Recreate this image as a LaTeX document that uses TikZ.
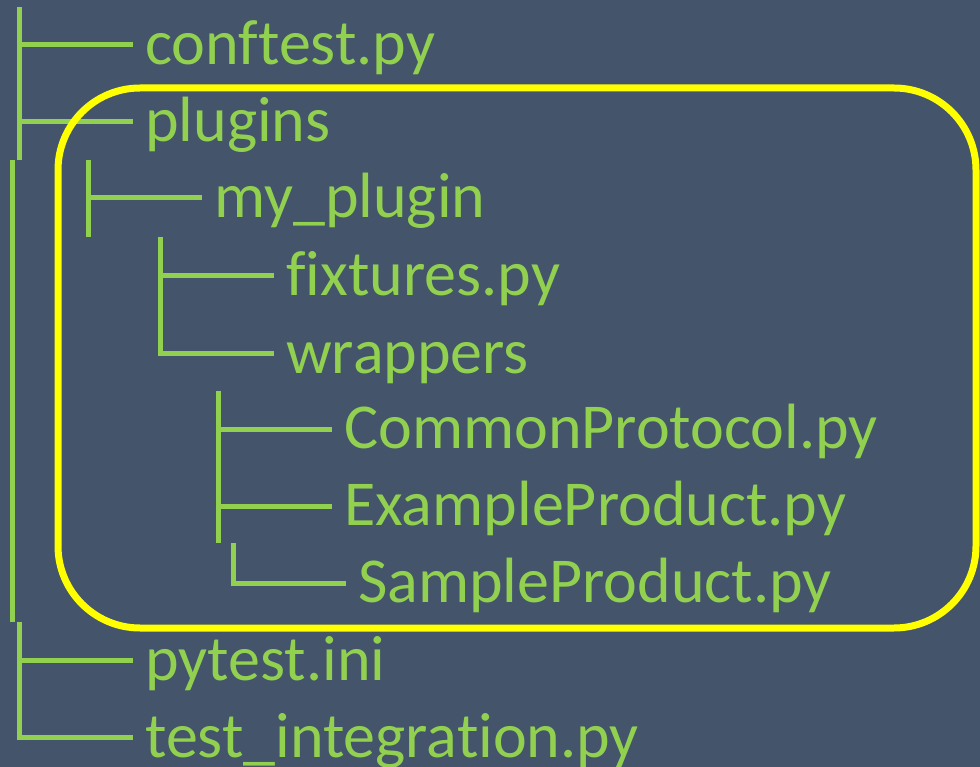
\documentclass[tikz,border=0pt]{standalone}
\usepackage{fontspec}
\setmainfont[Ligatures={NoCommon}]{Carlito}
\definecolor{bgc}{HTML}{44546A}
\definecolor{grn}{HTML}{92D050}
\definecolor{yel}{HTML}{FFFF00}
\begin{document}
\begin{tikzpicture}[x=1pt,y=-1pt,
  lbl/.style={anchor=base west,inner sep=0pt,text=grn,font=\fontsize{64}{70}\selectfont},
  treeline/.style={draw=grn,line width=5pt,line cap=butt}]
\fill[bgc] (0,0) rectangle (980,767);
\useasboundingbox (0,0) rectangle (980,767);
% text nodes
\node[lbl] (conf) at (145,65) {conftest.py};
\node[lbl] (plug) at (145,142) {plugins};
\node[lbl] (myp) at (214,218) {my\_plugin};
\node[lbl] (fix) at (286,296) {fixtures.py};
\node[lbl] (wrap) at (286,373) {wrappers};
\node[lbl] (comm) at (344,448) {CommonProtocol.py};
\node[lbl] (exam) at (344,525) {ExampleProduct.py};
\node[lbl] (samp) at (358,602) {SampleProduct.py};
\node[lbl] (pyt) at (145,680) {pytest.ini};
\node[lbl] (tint) at (145,757) {test\_integration.py};
% tree coordinates
\coordinate (a0) at (19,7);
\coordinate (a1) at (19,45);  \coordinate (a1e) at (133,45);
\coordinate (a2) at (19,122); \coordinate (a2e) at (133,122);
\coordinate (a3) at (19,160);
\coordinate (b0) at (12.5,160); \coordinate (b1) at (12.5,622);
\coordinate (c0) at (19,622);
\coordinate (c1) at (19,660); \coordinate (c1e) at (133,660);
\coordinate (c2) at (19,737); \coordinate (c2e) at (133,737);
\coordinate (m0) at (88,160); \coordinate (m1) at (88,198); \coordinate (m1e) at (202,198); \coordinate (m2) at (88,237);
\coordinate (f0) at (160,237); \coordinate (f1) at (160,276); \coordinate (f1e) at (274,276);
\coordinate (f2) at (160,353); \coordinate (f2e) at (274,353);
\coordinate (w0) at (218,391); \coordinate (w1) at (218,429); \coordinate (w1e) at (332,429);
\coordinate (w2) at (218,506); \coordinate (w2e) at (332,506); \coordinate (w3) at (218,543);
\coordinate (s0) at (233,543); \coordinate (s1) at (233,583); \coordinate (s1e) at (346,583);
% tree lines
\draw[treeline] (a0) -- (a3);
\draw[treeline] (a1) -- (a1e);
\draw[treeline] (a2) -- (a2e);
\draw[treeline] (b0) -- (b1);
\draw[treeline] (c0) -- (c2) -- (c2e);
\draw[treeline] (c1) -- (c1e);
\draw[treeline] (m0) -- (m2);
\draw[treeline] (m1) -- (m1e);
\draw[treeline] (f0) -- (f2) -- (f2e);
\draw[treeline] (f1) -- (f1e);
\draw[treeline] (w0) -- (w3);
\draw[treeline] (w1) -- (w1e);
\draw[treeline] (w2) -- (w2e);
\draw[treeline] (s0) -- (s1) -- (s1e);
% highlight box
\draw[yel,line width=7pt,rounded corners=82pt] (58,88) rectangle (976,628);
\end{tikzpicture}
\end{document}
